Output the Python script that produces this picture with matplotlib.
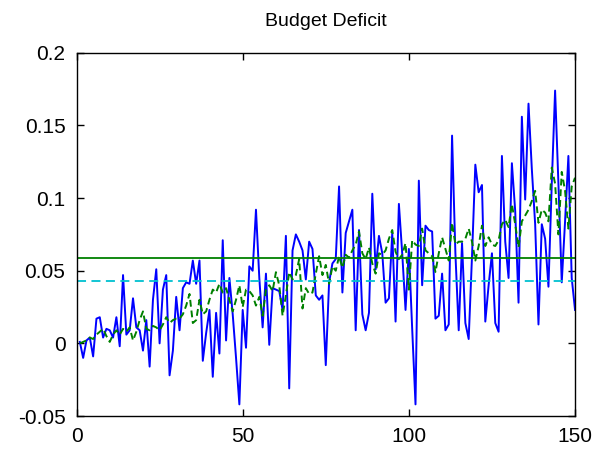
import matplotlib
matplotlib.use("Agg")
import matplotlib.pyplot as plt
import numpy as np

plt.rcParams['font.family'] = ['Liberation Sans', 'DejaVu Sans']

periods = np.arange(1, 151)

deficit = [
    0.001, -0.010, 0.002, 0.004, -0.009, 0.017, 0.018, 0.004, 0.010, 0.009,
    0.004, 0.018, -0.002, 0.047, 0.006, 0.009, 0.031, 0.011, 0.009, -0.005,
    0.016, -0.016, 0.030, 0.051, 0.000, 0.037, 0.047, -0.022, -0.005, 0.032,
    0.009, 0.038, 0.042, 0.041, 0.057, 0.041, 0.057, -0.012, 0.007, 0.023,
    -0.023, 0.021, -0.007, 0.071, 0.002, 0.045, 0.020, -0.010, -0.042, 0.023,
    -0.003, 0.053, 0.050, 0.092, 0.045, 0.011, 0.048, -0.001, 0.038, 0.037,
    0.036, 0.023, 0.074, -0.031, 0.064, 0.075, 0.070, 0.064, 0.044, 0.070,
    0.065, 0.033, 0.030, 0.033, -0.015, 0.042, 0.055, 0.058, 0.108, 0.035,
    0.076, 0.084, 0.092, 0.009, 0.078, 0.020, 0.009, 0.021, 0.103, 0.051,
    0.074, 0.062, 0.028, 0.031, 0.076, 0.015, 0.096, 0.062, 0.023, 0.065,
    0.010, -0.042, 0.112, 0.040, 0.081, 0.078, 0.077, 0.017, 0.019, 0.048,
    0.009, 0.013, 0.143, 0.062, 0.009, 0.069, 0.014, 0.003, 0.060, 0.123,
    0.104, 0.109, 0.015, 0.040, 0.062, 0.014, 0.008, 0.129, 0.070, 0.045,
    0.124, 0.091, 0.028, 0.156, 0.099, 0.165, 0.120, 0.082, 0.013, 0.082,
    0.072, 0.039, 0.110, 0.174, 0.110, 0.042, 0.084, 0.129, 0.045, 0.023,
]

trend = [
    0.000, 0.001, 0.002, 0.004, 0.003, 0.006, 0.008, 0.010, 0.005, 0.001,
    0.006, 0.009, 0.006, 0.010, 0.008, 0.011, 0.002, 0.008, 0.016, 0.022,
    0.010, 0.009, 0.012, 0.011, 0.009, 0.013, 0.018, 0.014, 0.016, 0.017,
    0.017, 0.020, 0.026, 0.034, 0.014, 0.016, 0.030, 0.020, 0.022, 0.030,
    0.037, 0.035, 0.041, 0.035, 0.038, 0.030, 0.022, 0.030, 0.040, 0.025,
    0.037, 0.036, 0.033, 0.026, 0.032, 0.019, 0.037, 0.040, 0.036, 0.049,
    0.040, 0.019, 0.033, 0.049, 0.044, 0.047, 0.058, 0.024, 0.038, 0.034,
    0.035, 0.048, 0.060, 0.047, 0.054, 0.041, 0.053, 0.050, 0.060, 0.052,
    0.061, 0.059, 0.064, 0.068, 0.077, 0.062, 0.058, 0.066, 0.055, 0.048,
    0.062, 0.061, 0.064, 0.072, 0.078, 0.063, 0.058, 0.061, 0.069, 0.037,
    0.071, 0.068, 0.067, 0.079, 0.064, 0.062, 0.060, 0.049, 0.062, 0.073,
    0.065, 0.057, 0.083, 0.068, 0.070, 0.070, 0.072, 0.079, 0.070, 0.057,
    0.067, 0.081, 0.067, 0.073, 0.068, 0.067, 0.071, 0.082, 0.085, 0.080,
    0.096, 0.082, 0.066, 0.084, 0.088, 0.092, 0.098, 0.105, 0.083, 0.092,
    0.090, 0.084, 0.121, 0.110, 0.075, 0.118, 0.105, 0.079, 0.108, 0.114,
]

mean_level = 0.059
target_level = 0.043

fig = plt.figure(figsize=(6.01, 4.54), dpi=100)
ax = fig.add_axes([0.1273, 0.0837, 0.8295, 0.800])

ax.plot(periods, deficit, color='#0000ff', lw=1.4)
ax.plot(periods, trend, color='#008000', lw=1.4, dashes=(3.5, 2))
ax.axhline(mean_level, color='#008000', lw=1.3)
ax.axhline(target_level, color='#00c0d0', lw=1.3, dashes=(5, 3))

ax.set_xlim(0, 150)
ax.set_ylim(-0.05, 0.2)
ax.set_xticks([0, 50, 100, 150])
ax.set_yticks([-0.05, 0, 0.05, 0.1, 0.15, 0.2])
ax.set_yticklabels(['-0.05', '0', '0.05', '0.1', '0.15', '0.2'])
ax.tick_params(direction='in', top=True, right=True, length=5, width=1,
               labelsize=15, pad=8)
for s in ax.spines.values():
    s.set_linewidth(1)
ax.set_title('Budget Deficit', fontsize=14, pad=19)

fig.savefig('out.png', dpi=100)
